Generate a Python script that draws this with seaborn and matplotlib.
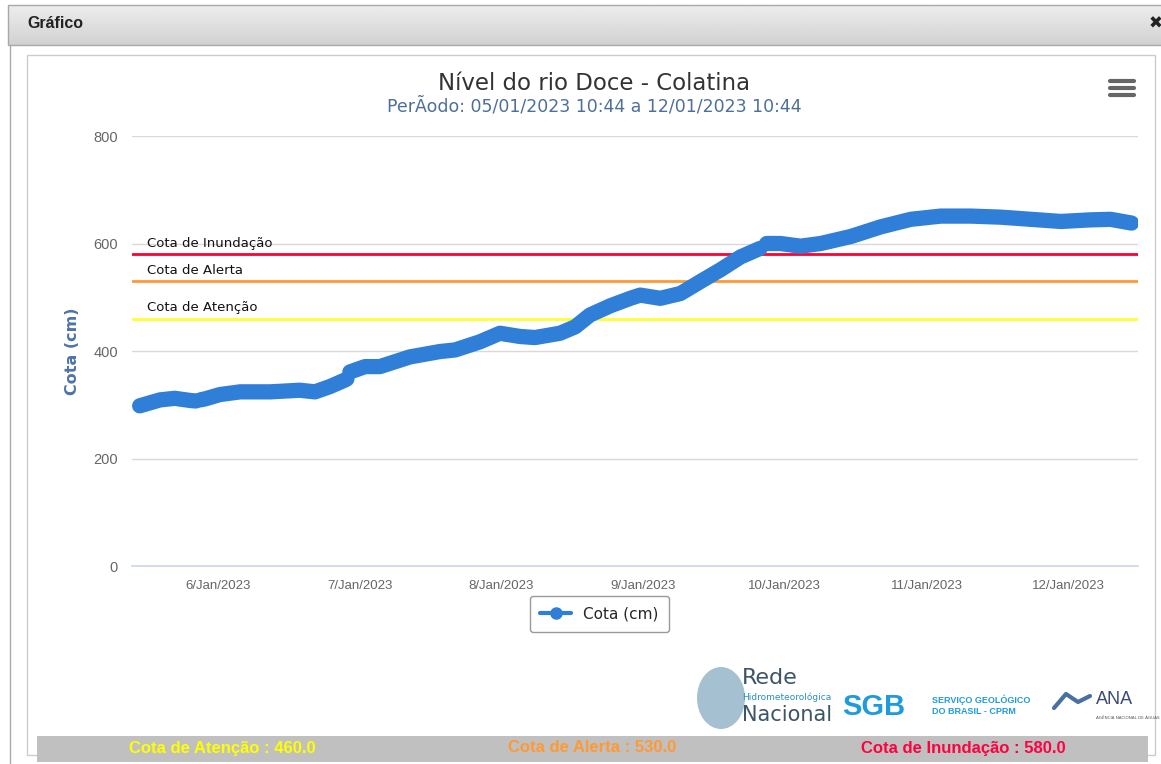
import numpy as np
import pandas as pd
import seaborn as sns
import matplotlib.pyplot as plt
import matplotlib.dates as mdates
import matplotlib.transforms as mtransforms
from matplotlib.lines import Line2D
from matplotlib.patches import Rectangle, Ellipse

# leituras da cota (cm), em trechos separados por falhas de registro
tempos = [
    "2023-01-05 10:44", "2023-01-05 14:10", "2023-01-05 16:40", "2023-01-05 19:15", "2023-01-05 20:15",
    "2023-01-05 21:00", "2023-01-05 21:50", "2023-01-06 00:20", "2023-01-06 03:45", "2023-01-06 08:50",
    "2023-01-06 13:50", "2023-01-06 16:25", "2023-01-06 19:00", "2023-01-06 21:30", "2023-01-06 21:50",
    "2023-01-06 22:20", "2023-01-07 00:55", "2023-01-07 03:25", "2023-01-07 08:30", "2023-01-07 13:35",
    "2023-01-07 16:10", "2023-01-07 20:20", "2023-01-07 23:45", "2023-01-08 03:10", "2023-01-08 05:40",
    "2023-01-08 09:55", "2023-01-08 12:30", "2023-01-08 15:00", "2023-01-08 18:25", "2023-01-08 21:50",
    "2023-01-08 23:30", "2023-01-09 02:55", "2023-01-09 06:20", "2023-01-09 09:40", "2023-01-09 13:05",
    "2023-01-09 16:30", "2023-01-09 19:50",
    "2023-01-09 20:55", "2023-01-09 23:15", "2023-01-10 02:40", "2023-01-10 06:05", "2023-01-10 11:10",
    "2023-01-10 16:15", "2023-01-10 21:20", "2023-01-11 02:25", "2023-01-11 07:30", "2023-01-11 12:35",
    "2023-01-11 17:40", "2023-01-11 22:45", "2023-01-12 03:50", "2023-01-12 07:10", "2023-01-12 10:44",
]
cotas = [
    298, 309, 312, 308, 307,
    309, 311, 319, 324, 324,
    327, 324, 334, 346, 348,
    361, 371, 371, 389, 399,
    402, 417, 433, 427, 425,
    433, 445, 467, 484, 498,
    504, 498, 507, 529, 551,
    575, 591,
    600, 600, 595, 600, 613,
    631, 645, 651, 651, 649,
    645, 641, 644, 645, 638,
]
trechos = [1] * 5 + [2] * 10 + [3] * 22 + [4] * 15

cota_nomes = ["Cota de Atenção", "Cota de Alerta", "Cota de Inundação"]
cota_valores = [460.0, 530.0, 580.0]
cota_cores = ["#ffff33", "#ff9933", "#ff0033"]
cota_cores_texto = ["#ffff00", "#ff9933", "#ff0040"]

df = pd.DataFrame({"tempo": pd.to_datetime(tempos), "cota": cotas, "trecho": trechos})

sns.set_style("white")
plt.rcParams["font.family"] = ["DejaVu Sans"]

W, H = 1161, 764
fig = plt.figure(figsize=(W / 100, H / 100), dpi=100)

# moldura da janela, em pixels
bg = fig.add_axes([0, 0, 1, 1], zorder=0)
bg.set_xlim(0, W)
bg.set_ylim(H, 0)
bg.axis("off")

grad = np.linspace(0.93, 0.82, 50).reshape(-1, 1)
bg.imshow(grad, cmap="gray", vmin=0, vmax=1, extent=[8, W + 5, 45, 5], aspect="auto", zorder=0)
bg.add_patch(Rectangle((8, 5), W, 40, fill=False, ec="#a8a8a8", lw=1))
bg.text(27, 23, "Gráfico", fontsize=11.5, fontweight="bold", color="#222222", va="center",
        family=["Liberation Sans"])
bg.text(1149, 24, "✖", fontsize=12, color="#222222", va="center")
bg.plot([10, 10], [45, H], color="#aaaaaa", lw=1)
bg.add_patch(Rectangle((27, 55), 1128, 700, fill=False, ec="#cccccc", lw=1))
bg.add_patch(Rectangle((37, 736), 1111, 26, fc="#c0c0c0", ec="none"))

for nome, valor, cor, cx in zip(cota_nomes, cota_valores, cota_cores_texto, [222, 592, 963]):
    bg.text(cx, 748, f"{nome} : {valor:.1f}", color=cor, fontsize=12, fontweight="bold",
            ha="center", va="center", family=["Liberation Sans"])

# titulo e menu
bg.text(594, 83, "Nível do rio Doce - Colatina", fontsize=16.5, color="#333333", ha="center", va="center")
bg.text(594, 106, "PerÃodo: 05/01/2023 10:44 a 12/01/2023 10:44", fontsize=12.5, color="#4d6f99",
        ha="center", va="center")
for yy in [81, 88, 95]:
    bg.plot([1110, 1134], [yy, yy], color="#666666", lw=3, solid_capstyle="round")

# logotipos (aproximados com texto)
bg.add_patch(Ellipse((721, 698), 48, 62, fc="#7fa6bd", ec="none", alpha=0.7))
bg.text(742, 678, "Rede", fontsize=16, color="#3d5566", va="center")
bg.text(742, 697, "Hidrometeorológica", fontsize=6.5, color="#2a8fc8", va="center")
bg.text(742, 715, "Nacional", fontsize=15, color="#3d5566", va="center")
bg.text(842, 707, "SGB", fontsize=21, fontweight="bold", color="#1e9be0", va="center", family=["Liberation Sans"])
bg.text(932, 700, "SERVIÇO GEOLÓGICO", fontsize=6.5, fontweight="bold", color="#1e9be0", va="center", family=["Liberation Sans"])
bg.text(932, 711, "DO BRASIL - CPRM", fontsize=6.5, fontweight="bold", color="#1e9be0", va="center", family=["Liberation Sans"])
bg.text(1096, 700, "ANA", fontsize=13, color="#3a4a7a", va="center", family=["Liberation Sans"])
bg.text(1096, 718, "AGÊNCIA NACIONAL DE ÁGUAS", fontsize=3, color="#555555", va="center")
bg.plot([1054, 1066, 1078, 1090], [708, 694, 702, 696], color="#4a6fa5", lw=3)

# grafico
ax = fig.add_axes([132 / W, 1 - 566 / H, (1138 - 132) / W, (566 - 136) / H], zorder=1)
ax.set_facecolor("none")

sns.lineplot(data=df, x="tempo", y="cota", units="trecho", estimator=None, color="#2f7ed8",
             linewidth=11, solid_capstyle="round", solid_joinstyle="round", ax=ax, zorder=4, legend=False)

trans = mtransforms.blended_transform_factory(ax.transAxes, ax.transData)
for nome, valor, cor in zip(cota_nomes, cota_valores, cota_cores):
    ax.axhline(valor, color=cor, lw=2, zorder=3)
    ax.text(15 / 1006, valor + 8, nome, transform=trans, fontsize=9.5, color="#111111", va="bottom", zorder=5)

ax.set_ylim(0, 800)
ax.set_xlim(pd.Timestamp("2023-01-05 09:26"), pd.Timestamp("2023-01-12 11:49"))
ax.set_yticks([0, 200, 400, 600, 800])
ax.yaxis.grid(True, color="#d9d9d9", lw=1)
ax.xaxis.grid(False)
ax.xaxis.set_major_locator(mdates.DayLocator())
ax.xaxis.set_major_formatter(mdates.DateFormatter("%-d/%b/%Y"))

for s in ["top", "right", "left"]:
    ax.spines[s].set_visible(False)
ax.spines["bottom"].set_color("#ccd6eb")
ax.spines["bottom"].set_linewidth(1.2)
ax.tick_params(axis="x", length=7, color="#ccd6eb", width=1, pad=3, labelsize=9.5, labelcolor="#666666")
ax.tick_params(axis="y", length=0, pad=10, labelsize=10.5, labelcolor="#666666")
for lab in ax.get_xticklabels() + ax.get_yticklabels():
    lab.set_family(["Liberation Sans"])

ax.set_xlabel("")
ax.set_ylabel("Cota (cm)", fontsize=11.5, fontweight="bold", color="#4d73a8", labelpad=10)

handle = Line2D([], [], color="#2f7ed8", lw=3, marker="o", markersize=8)
ax.legend([handle], ["Cota (cm)"], loc="upper center", bbox_to_anchor=(599.5 / W, 1 - 596 / H),
          bbox_transform=fig.transFigure, frameon=True, fancybox=True, edgecolor="#999999",
          fontsize=11, handlelength=2.0, borderpad=0.7, borderaxespad=0, framealpha=1)

plt.savefig("out.png", dpi=100)
